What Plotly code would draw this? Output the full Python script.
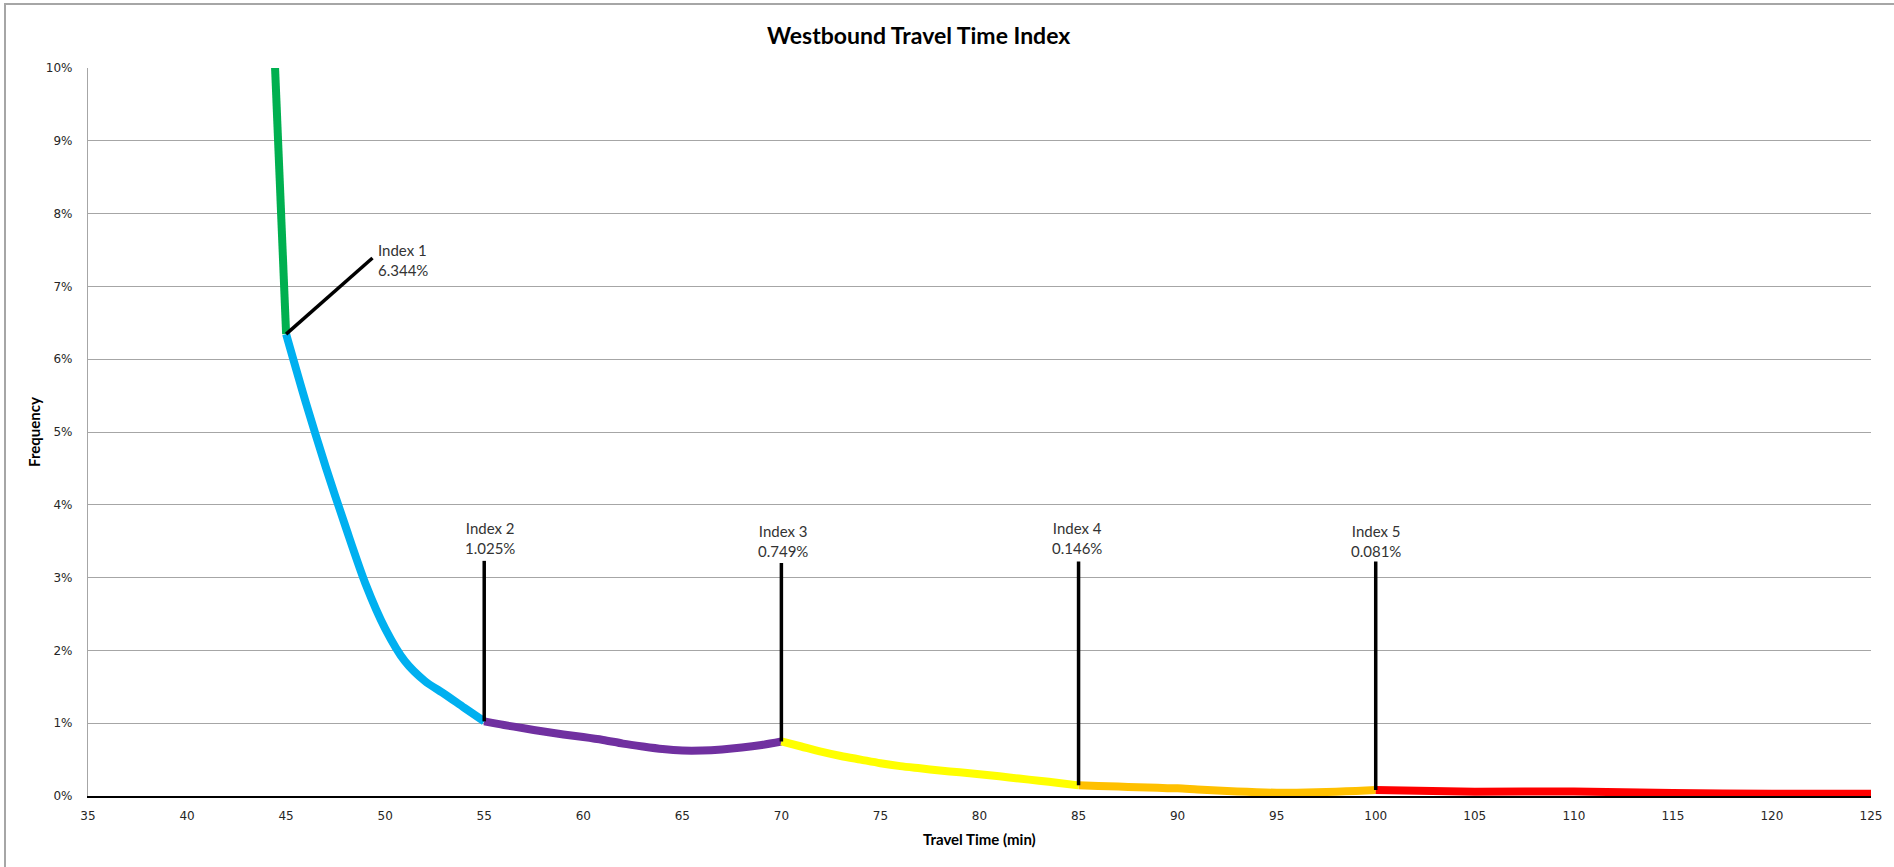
import plotly.graph_objects as go

# ---- data (frequency in %) ----
green_x = [44, 45]
green_y = [12.9, 6.344]

blue_x = [45, 46, 47, 48, 49, 50, 51, 52, 53, 54, 55]
blue_y = [6.344, 5.40, 4.52, 3.70, 2.92, 2.30, 1.85, 1.58, 1.40, 1.21, 1.025]

purple_x = [55, 56, 57, 58, 59, 60, 61, 62, 63, 64, 65, 66, 67, 68, 69, 70]
purple_y = [1.025, 0.975, 0.93, 0.885, 0.845, 0.81, 0.77, 0.72, 0.68, 0.645, 0.625, 0.625, 0.64, 0.665, 0.70, 0.749]

yellow_x = [70, 71, 72, 73, 74, 75, 76, 77, 78, 79, 80, 81, 82, 83, 84, 85]
yellow_y = [0.749, 0.68, 0.61, 0.55, 0.50, 0.45, 0.41, 0.38, 0.35, 0.325, 0.30, 0.27, 0.24, 0.21, 0.18, 0.146]

orange_x = [85, 86, 87, 88, 89, 90, 91, 92, 93, 94, 95, 96, 97, 98, 99, 100]
orange_y = [0.146, 0.138, 0.13, 0.12, 0.113, 0.105, 0.09, 0.077, 0.063, 0.052, 0.045, 0.045, 0.05, 0.06, 0.07, 0.081]

red_x = [100, 105, 110, 115, 120, 125]
red_y = [0.081, 0.06, 0.062, 0.04, 0.03, 0.03]

segments = [
    (green_x, green_y, "#00B050"),
    (blue_x, blue_y, "#00B0F0"),
    (purple_x, purple_y, "#7030A0"),
    (yellow_x, yellow_y, "#FFFF00"),
    (orange_x, orange_y, "#FFC000"),
    (red_x, red_y, "#FF0000"),
]

# index markers
index_names = ["Index 1", "Index 2", "Index 3", "Index 4", "Index 5"]
index_x = [45, 55, 70, 85, 100]
index_y = [6.344, 1.025, 0.749, 0.146, 0.081]
index_labels = ["6.344%", "1.025%", "0.749%", "0.146%", "0.081%"]
leader_end_x = [49.36, 55, 70, 85, 100]
leader_end_y = [7.39, 3.23, 3.20, 3.22, 3.22]
label_x = [49.55, 55.27, 70.09, 84.94, 100.0]
label_y = [7.36, 3.54, 3.50, 3.54, 3.50]
label_anchor = ["left", "center", "center", "center", "center"]

x_ticks = list(range(35, 126, 5))
y_ticks = list(range(0, 11, 1))

fig = go.Figure()

for xs, ys, col in segments:
    fig.add_trace(go.Scatter(
        x=xs, y=ys, mode="lines",
        line=dict(color=col, width=8, shape="spline", smoothing=0.8),
        hoverinfo="skip", showlegend=False,
    ))

for i in range(len(index_x)):
    fig.add_trace(go.Scatter(
        x=[index_x[i], leader_end_x[i]], y=[index_y[i], leader_end_y[i]],
        mode="lines", line=dict(color="#000000", width=3.5),
        hoverinfo="skip", showlegend=False,
    ))
    fig.add_annotation(
        x=label_x[i], y=label_y[i], xref="x", yref="y",
        text=index_names[i] + "<br>" + index_labels[i],
        showarrow=False, xanchor=label_anchor[i], yanchor="middle",
        align="left" if label_anchor[i] == "left" else "center",
        font=dict(family="Lato", size=15, color="#333333"),
    )

L, R, T, B = 88, 23, 68, 71
W, H = 1894, 867
pw = W - L - R
ph = H - T - B

fig.update_layout(
    width=W, height=H,
    margin=dict(l=L, r=R, t=T, b=B, autoexpand=False),
    paper_bgcolor="white", plot_bgcolor="white",
    showlegend=False,
    xaxis=dict(
        range=[35, 125], tickmode="array", tickvals=x_ticks,
        ticktext=[str(v) for v in x_ticks],
        showgrid=False, zeroline=False,
        showline=True, linecolor="#000000", linewidth=1.5,
        ticks="", ticklabelstandoff=8,
        tickfont=dict(family="DejaVu Sans", size=12, color="#262626"),
    ),
    yaxis=dict(
        range=[0, 10], tickmode="array", tickvals=y_ticks,
        ticktext=[f"{v}%" for v in y_ticks],
        showgrid=True, gridcolor="#A6A6A6", gridwidth=1.2,
        zeroline=False,
        showline=True, linecolor="#A6A6A6", linewidth=1.2,
        ticks="", ticklabelstandoff=12,
        tickfont=dict(family="DejaVu Sans", size=12, color="#262626"),
    ),
    annotations=list(fig.layout.annotations) + [
        dict(text="<b>Westbound Travel Time Index</b>", xref="paper", yref="paper",
             x=(918 - L) / pw, y=(H - B - 35) / ph, showarrow=False,
             xanchor="center", yanchor="middle",
             font=dict(family="Lato", size=23, color="#000000")),
        dict(text="<b>Travel Time (min)</b>", xref="paper", yref="paper",
             x=0.5, y=-(839 - (H - B)) / ph, showarrow=False,
             xanchor="center", yanchor="middle",
             font=dict(family="Lato", size=15, color="#000000")),
        dict(text="<b>Frequency</b>", xref="paper", yref="paper",
             x=(34 - L) / pw, y=0.5, showarrow=False, textangle=-90,
             xanchor="center", yanchor="middle",
             font=dict(family="Lato", size=15, color="#000000")),
    ],
    shapes=[
        dict(type="rect", xref="paper", yref="paper",
             x0=(5 - L) / pw, x1=(W + 10 - L) / pw,
             y0=-(H + 10 - (H - B)) / ph, y1=(H - B - 4) / ph,
             line=dict(color="#A6A6A6", width=2), fillcolor="rgba(0,0,0,0)",
             layer="below"),
    ],
)

fig.write_html(
    "out.html",
    config={"displayModeBar": False},
    post_script="document.body.style.margin='0px';document.body.style.overflow='hidden';",
)
